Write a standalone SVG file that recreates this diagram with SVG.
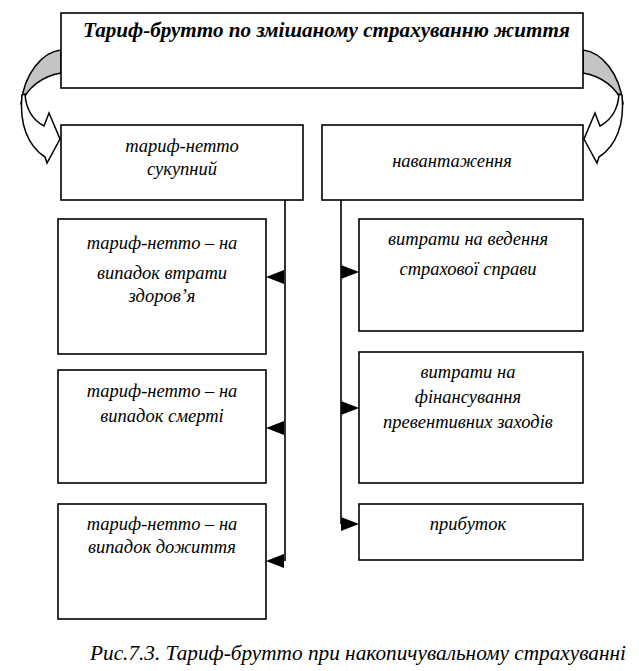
<svg xmlns="http://www.w3.org/2000/svg" width="639" height="671" viewBox="0 0 639 671">
<style>
.box{fill:#fff;stroke:#000;stroke-width:1.6}
.t{font-family:'Liberation Serif','Times New Roman',serif;font-style:italic;font-size:18.5px;fill:#000;text-anchor:middle}
.title{font-family:'Liberation Serif','Times New Roman',serif;font-style:italic;font-weight:bold;font-size:21px;fill:#000}
.cap{font-family:'Liberation Serif','Times New Roman',serif;font-style:italic;font-size:21px;fill:#000}
.ln{fill:none;stroke:#000;stroke-width:1.6}
.gray{fill:#c4c4c4;stroke:#000;stroke-width:1.5;stroke-linejoin:round}
.band{fill:#fff;stroke:#000;stroke-width:1.5;stroke-linejoin:miter}
</style>
<defs>
<polygon id="ahL" points="0,0 18,-7 18,7" fill="#000"/>
<polygon id="ahR" points="0,0 -18,-7 -18,7" fill="#000"/>
<g id="curved">
<path class="gray" d="M61,50 C42,52 24,74 21,104 C27,88 42,76 61,73 Z"/>
<path class="band" d="M22,95 C19,124 28,146 45,157 L47,163 L60,139 L49,113 L44,126 C33,120 26,110 25,94 Z"/>
</g>
</defs>
<rect width="639" height="671" fill="#fff"/>

<g id="connectors">
<path class="ln" d="M285,200 V561"/>
<use href="#ahL" x="266" y="277"/>
<use href="#ahL" x="266" y="428"/>
<use href="#ahL" x="266" y="561"/>
<path class="ln" d="M341,200 V524"/>
<use href="#ahR" x="359" y="272"/>
<use href="#ahR" x="359" y="408"/>
<use href="#ahR" x="359" y="524"/>
<use href="#curved"/>
<use href="#curved" transform="matrix(-1 0 0 1 644 0)"/>
</g>

<g id="n-top">
<rect class="box" x="61" y="13" width="522" height="75"/>
<text class="title" x="83" y="37" textLength="487" lengthAdjust="spacingAndGlyphs">Тариф-брутто по змішаному страхуванню життя</text>
</g>
<g id="n-netto">
<rect class="box" x="61" y="125" width="242" height="75"/>
<text class="t" x="182" y="152">тариф-нетто</text>
<text class="t" x="182" y="175">сукупний</text>
</g>
<g id="n-nav">
<rect class="box" x="322" y="125" width="261" height="75"/>
<text class="t" x="452" y="167">навантаження</text>
</g>
<g id="n-health">
<rect class="box" x="58" y="219" width="208" height="135"/>
<text class="t" x="162" y="249">тариф-нетто – на</text>
<text class="t" x="162" y="279">випадок втрати</text>
<text class="t" x="162" y="302">здоров’я</text>
</g>
<g id="n-death">
<rect class="box" x="58" y="370" width="208" height="113"/>
<text class="t" x="162" y="397">тариф-нетто – на</text>
<text class="t" x="162" y="422">випадок смерті</text>
</g>
<g id="n-surv">
<rect class="box" x="58" y="504" width="208" height="115"/>
<text class="t" x="162" y="530">тариф-нетто – на</text>
<text class="t" x="162" y="553">випадок дожиття</text>
</g>
<g id="n-costs">
<rect class="box" x="359" y="219" width="224" height="112"/>
<text class="t" x="468" y="245">витрати на ведення</text>
<text class="t" x="468" y="275">страхової справи</text>
</g>
<g id="n-prev">
<rect class="box" x="359" y="352" width="224" height="131"/>
<text class="t" x="468" y="378">витрати на</text>
<text class="t" x="468" y="403">фінансування</text>
<text class="t" x="468" y="428">превентивних заходів</text>
</g>
<g id="n-profit">
<rect class="box" x="359" y="504" width="224" height="56"/>
<text class="t" x="468" y="530">прибуток</text>
</g>

<text class="cap" x="90" y="660" textLength="536" lengthAdjust="spacingAndGlyphs">Рис.7.3. Тариф-брутто при накопичувальному страхуванні</text>
</svg>
